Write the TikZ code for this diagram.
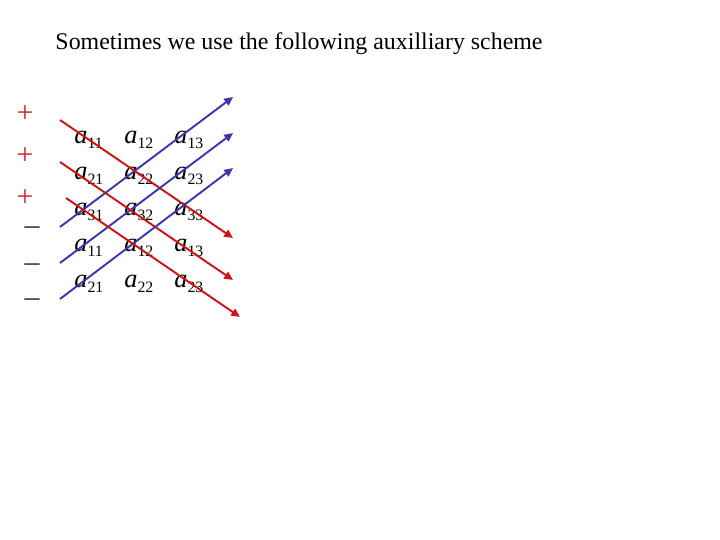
\documentclass[tikz,border=0pt]{standalone}
\usepackage{fontspec}
\setmainfont{Liberation Serif}
\usetikzlibrary{arrows.meta}
\definecolor{diagred}{RGB}{204,20,20}
\definecolor{diagblue}{RGB}{60,55,170}
\definecolor{signred}{RGB}{200,40,50}
\definecolor{signdark}{RGB}{40,40,55}
\newcommand{\entry}[1]{\textit{a}\raisebox{-0.4ex}{\fontsize{9}{10}\selectfont #1}}
\tikzset{
  elem/.style={inner sep=0pt, anchor=base west, font=\fontsize{15}{17}\selectfont},
  sign/.style={inner sep=0pt, font=\fontsize{17}{19}\selectfont},
  diagline/.style={line width=1.1pt, -{Triangle[length=5pt,width=4.5pt]}},
}

\begin{document}
\begin{tikzpicture}[x=0.02cm,y=-0.02cm]
\useasboundingbox (0,0) rectangle (720,540);
% title
\node[font=\fontsize{13.6}{16}\selectfont] (title) at (299,44) {Sometimes we use the following auxilliary scheme};

% signs
\foreach \y [count=\k] in {114,156,198} {
    \node[sign, text=signred] (plus\k) at (25,\y) {+};
}
\foreach \y [count=\k] in {231,268,303} {
    \node[sign, text=signdark] (minus\k) at (32,\y) {–};
}

% entries, rows 4 and 5 repeat rows 1 and 2
\foreach \r/\i in {1/1,2/2,3/3,4/1,5/2} {
    \foreach \c/\x in {1/74,2/124,3/174} {
        \node[elem] (a\r\c) at (\x,{108+36*\r}) {\entry{\i\c}};
    }
}

% ends of the diagonals
\foreach \k/\sx/\sy/\ex/\ey in {1/60/120/233/238, 2/60/162/233/280, 3/66/198/240/317} {
    \coordinate (r\k s) at (\sx,\sy);
    \coordinate (r\k e) at (\ex,\ey);
}
\foreach \k/\sx/\sy/\ex/\ey in {1/60/227/233/97, 2/60/263/233/133, 3/60/299/233/168} {
    \coordinate (b\k s) at (\sx,\sy);
    \coordinate (b\k e) at (\ex,\ey);
}

% blue and red diagonals
\foreach \k in {1,2,3} {
    \draw[diagline, diagblue] (b\k s) -- (b\k e);
    \draw[diagline, diagred] (r\k s) -- (r\k e);
}
\end{tikzpicture}
\end{document}
